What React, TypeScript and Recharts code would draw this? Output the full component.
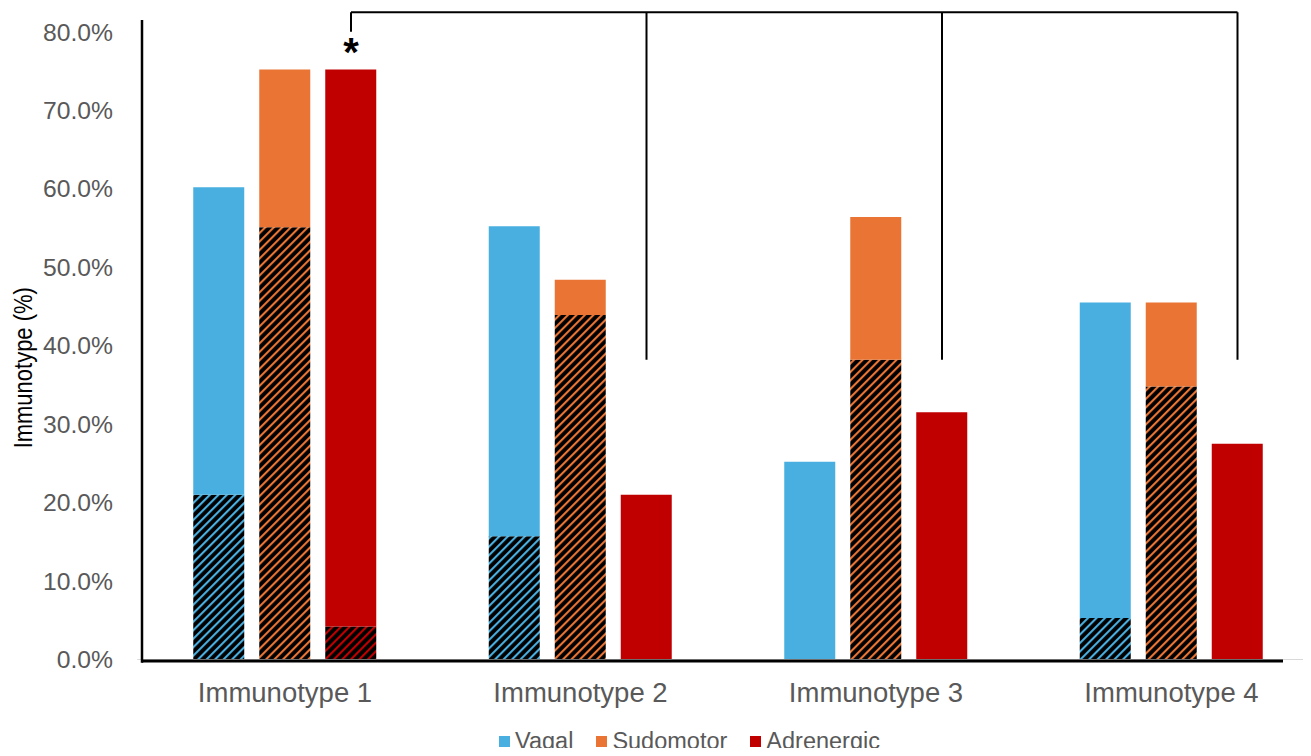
import React from 'react';
import { BarChart, Bar, XAxis, YAxis, ReferenceLine, ReferenceDot, Legend } from 'recharts';

const categories = ['Immunotype 1', 'Immunotype 2', 'Immunotype 3', 'Immunotype 4'];
const vagalHatched = [0.21, 0.157, 0, 0.053];
const vagalTotal = [0.602, 0.552, 0.252, 0.455];
const sudomotorHatched = [0.551, 0.439, 0.382, 0.348];
const sudomotorTotal = [0.752, 0.484, 0.564, 0.455];
const adrenergicHatched = [0.042, 0, 0, 0];
const adrenergicTotal = [0.752, 0.21, 0.315, 0.275];
const seriesNames = ['Vagal', 'Sudomotor', 'Adrenergic'];
const seriesColors = ['#48AFE0', '#E97434', '#C00000'];
const yTicks = [0, 0.1, 0.2, 0.3, 0.4, 0.5, 0.6, 0.7, 0.8];
// significance bracket: from Immunotype 1 (Adrenergic) to Immunotypes 2-4
const bracketFrom = 0;
const bracketTo = [1, 2, 3];
const bracketTopValue = 0.825;
const bracketDropValue = 0.382;

const data = categories.map((name, i) => ({
  name,
  vagalH: vagalHatched[i],
  vagalS: +(vagalTotal[i] - vagalHatched[i]).toFixed(4),
  sudoH: sudomotorHatched[i],
  sudoS: +(sudomotorTotal[i] - sudomotorHatched[i]).toFixed(4),
  adrH: adrenergicHatched[i],
  adrS: +(adrenergicTotal[i] - adrenergicHatched[i]).toFixed(4),
}));

const W = 1320;
const H = 748;
const Y_W = 129.25;
const PLOT_W = 1182;
const BAND = PLOT_W / categories.length;
const BAR = 51;
const GAP = 15;
const NUM_MAX = categories.length - 1;
const toNum = (bandUnits: number) => (bandUnits * NUM_MAX) / categories.length;
const adrOffset = 0.5 + (BAR + GAP) / BAND; // adrenergic bar centre within band (band units)
const FONT = '"Liberation Sans", Arial, sans-serif';

const Pattern = ({ id, color }: { id: string; color: string }) => (
  <pattern id={id} patternUnits="userSpaceOnUse" width={6} height={6} patternTransform="rotate(45)">
    <rect width={6} height={6} fill="#000" />
    <rect width={2.1} height={6} fill={color} />
  </pattern>
);

const LegendContent = () => (
  <div style={{ display: 'flex', alignItems: 'center', height: 30, paddingLeft: 491, fontFamily: FONT, fontSize: 23.5, color: '#595959' }}>
    {seriesNames.map((n, i) => (
      <div key={n} style={{ display: 'flex', alignItems: 'center', marginRight: 23 }}>
        <span style={{ display: 'inline-block', width: 11, height: 11, background: seriesColors[i], marginRight: 5 }} />
        <span>{n}</span>
      </div>
    ))}
  </div>
);

const YTitle = (props: any) => {
  const vb = props.viewBox || { x: 0, y: 0, height: 0 };
  const cx = vb.x + 24;
  const cy = vb.y + vb.height / 2 + 28;
  return (
    <text x={0} y={0} transform={`translate(${cx}, ${cy}) scale(1.15, 1) rotate(-90)`} textAnchor="middle" fill="#000" fontSize={22} fontFamily={FONT}>
      Immunotype (%)
    </text>
  );
};

export default function App() {
  const axisX = toNum((142 - 8 - Y_W) / BAND);
  const axisEnd = toNum((1283 - 8 - Y_W) / BAND);
  const bx = (c: number) => toNum(c + adrOffset);
  return (
    <div style={{ width: 1295, height: 748, marginBottom: -8, overflow: 'hidden' }}>
      <BarChart width={W} height={H} data={data} margin={{ top: 12, right: W - Y_W - PLOT_W, bottom: 0, left: 0 }} barSize={BAR} barGap={GAP}>
        <defs>
          <Pattern id="hatchVagal" color={seriesColors[0]} />
          <Pattern id="hatchSudo" color={seriesColors[1]} />
          <Pattern id="hatchAdr" color={seriesColors[2]} />
        </defs>
        <XAxis dataKey="name" tickLine={false} axisLine={false} tickSize={0} tickMargin={23} height={66.5} interval={0}
          tick={{ fontSize: 27.5, fill: '#595959', fontFamily: FONT }} />
        <XAxis xAxisId="num" type="number" domain={[0, NUM_MAX]} hide allowDataOverflow />
        <YAxis domain={[0, 0.815]} ticks={yTicks} allowDataOverflow width={Y_W} tickLine={false} axisLine={false} tickSize={0} tickMargin={24.25}
          tickFormatter={(v: number) => (v * 100).toFixed(1) + '%'}
          tick={{ fontSize: 24.7, fill: '#595959', fontFamily: FONT }}
          label={<YTitle />} />
        <ReferenceLine y={0} stroke="#D9D9D9" strokeWidth={1} ifOverflow="visible" />
        <Bar dataKey="vagalH" stackId="v" fill="url(#hatchVagal)" isAnimationActive={false} legendType="none" />
        <Bar dataKey="vagalS" stackId="v" fill={seriesColors[0]} name={seriesNames[0]} isAnimationActive={false} />
        <Bar dataKey="sudoH" stackId="s" fill="url(#hatchSudo)" isAnimationActive={false} legendType="none" />
        <Bar dataKey="sudoS" stackId="s" fill={seriesColors[1]} name={seriesNames[1]} isAnimationActive={false} />
        <Bar dataKey="adrH" stackId="a" fill="url(#hatchAdr)" isAnimationActive={false} legendType="none" />
        <Bar dataKey="adrS" stackId="a" fill={seriesColors[2]} name={seriesNames[2]} isAnimationActive={false} />
        {/* axis lines */}
        <ReferenceLine xAxisId="num" segment={[{ x: axisX, y: -0.002 }, { x: axisEnd, y: -0.002 }]} stroke="#000" strokeWidth={3} ifOverflow="visible" />
        <ReferenceLine xAxisId="num" segment={[{ x: axisX, y: -0.004 }, { x: axisX, y: 0.815 }]} stroke="#000" strokeWidth={2.5} ifOverflow="visible" />
        {/* significance bracket */}
        <ReferenceLine xAxisId="num" segment={[{ x: bx(bracketFrom), y: bracketTopValue }, { x: bx(bracketTo[bracketTo.length - 1]), y: bracketTopValue }]} stroke="#000" strokeWidth={2} ifOverflow="visible" />
        <ReferenceLine xAxisId="num" segment={[{ x: bx(bracketFrom), y: adrenergicTotal[bracketFrom] + 0.048 }, { x: bx(bracketFrom), y: bracketTopValue }]} stroke="#000" strokeWidth={2} ifOverflow="visible" />
        {bracketTo.map((c) => (
          <ReferenceLine key={c} xAxisId="num" segment={[{ x: bx(c), y: bracketDropValue }, { x: bx(c), y: bracketTopValue }]} stroke="#000" strokeWidth={2} ifOverflow="visible" />
        ))}
        <ReferenceDot xAxisId="num" x={bx(bracketFrom)} y={0.775} r={0} fill="none" stroke="none" ifOverflow="visible"
          label={{ value: '*', position: 'center', fontSize: 40, fill: '#000', fontFamily: FONT, fontWeight: 'bold' }} />
        <Legend verticalAlign="bottom" height={30} content={<LegendContent />} wrapperStyle={{ left: 0, width: W }} />
      </BarChart>
    </div>
  );
}
